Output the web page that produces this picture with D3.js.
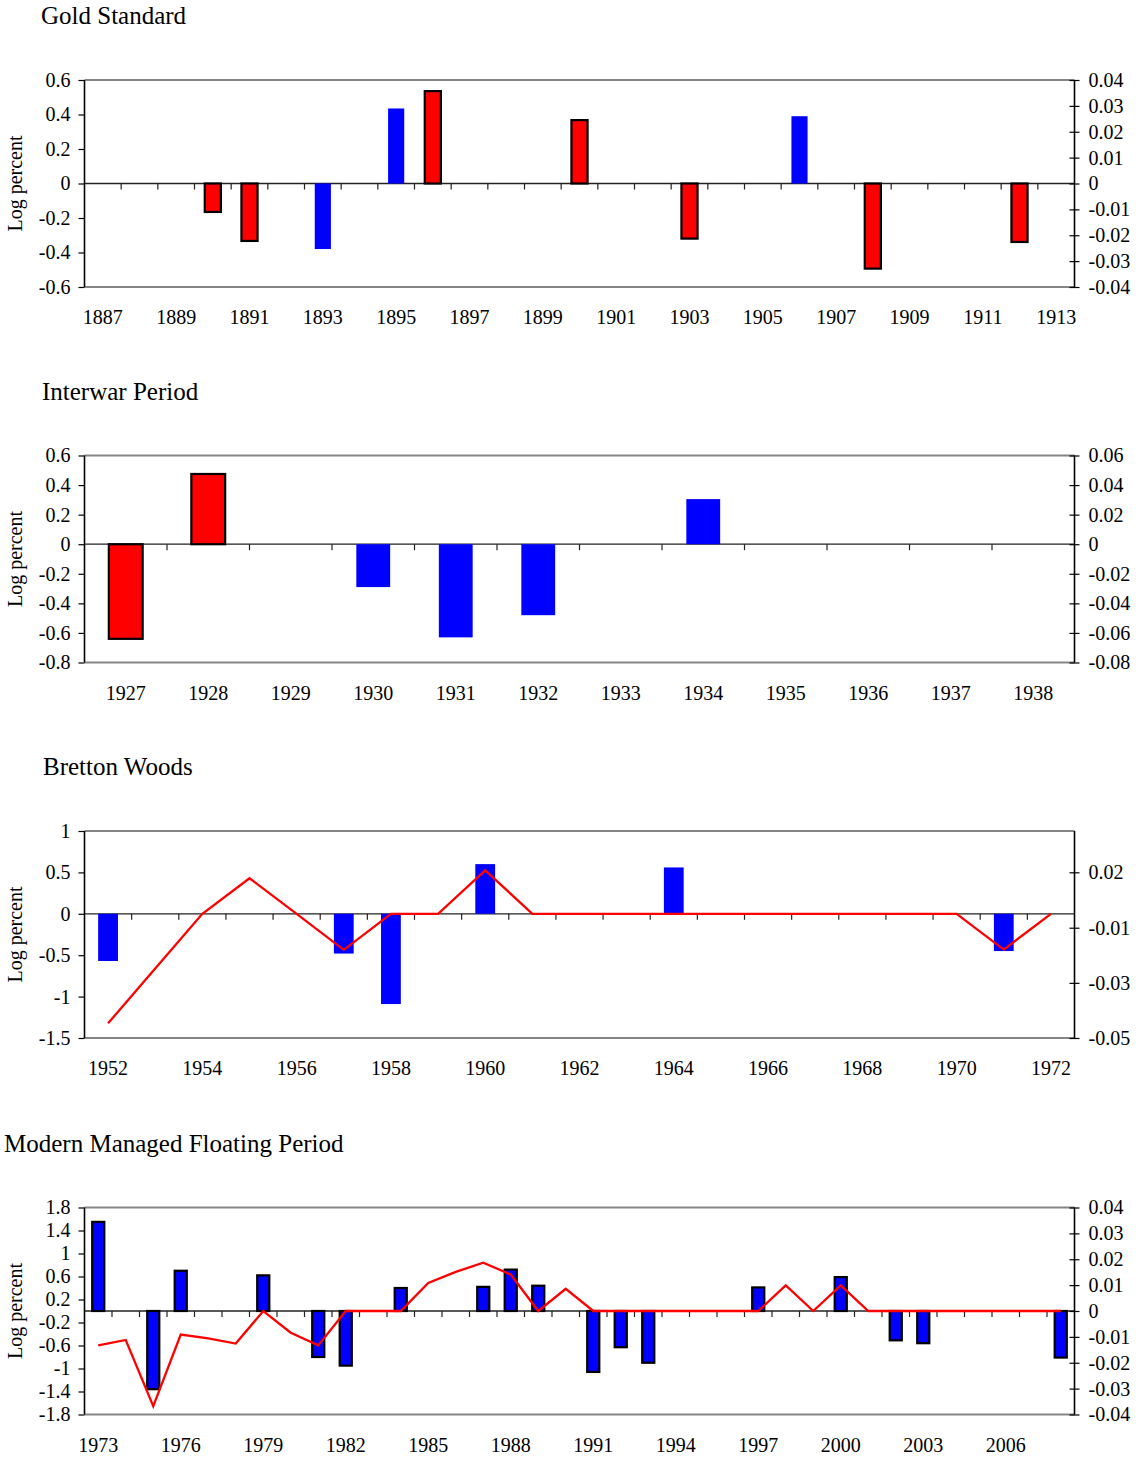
<!DOCTYPE html>
<html>
<head>
<meta charset="utf-8">
<script src="https://cdn.jsdelivr.net/npm/d3@7"></script>
<style>
  html, body { margin: 0; padding: 0; background: #fff; }
  svg { display: block; }
  text { font-family: "Liberation Serif", "Times New Roman", serif; fill: #000; }
</style>
</head>
<body>
<svg id="chart" width="1142" height="1457"></svg>
<script>
// ---------- Gold Standard ----------
const gsYears = d3.range(1887, 1914);
const gsLabelYears = d3.range(1887, 1914, 2);
const gsLeftTicks = [0.6, 0.4, 0.2, 0, -0.2, -0.4, -0.6];
const gsLeftLabels = ["0.6", "0.4", "0.2", "0", "-0.2", "-0.4", "-0.6"];
const gsRightTicks = [0.04, 0.03, 0.02, 0.01, 0, -0.01, -0.02, -0.03, -0.04];
const gsRightLabels = ["0.04", "0.03", "0.02", "0.01", "0", "-0.01", "-0.02", "-0.03", "-0.04"];
// blue bars (left axis), red bars (right axis)
const gsBlue = [[1893, -0.38], [1895, 0.435], [1906, 0.39]];
const gsRed = [[1890, -0.011], [1891, -0.0222], [1896, 0.0357], [1900, 0.0245],
               [1903, -0.0213], [1908, -0.0329], [1912, -0.0226]];

// ---------- Interwar Period ----------
const iwYears = d3.range(1927, 1939);
const iwLabelYears = d3.range(1927, 1939);
const iwLeftTicks = [0.6, 0.4, 0.2, 0, -0.2, -0.4, -0.6, -0.8];
const iwLeftLabels = ["0.6", "0.4", "0.2", "0", "-0.2", "-0.4", "-0.6", "-0.8"];
const iwRightTicks = [0.06, 0.04, 0.02, 0, -0.02, -0.04, -0.06, -0.08];
const iwRightLabels = ["0.06", "0.04", "0.02", "0", "-0.02", "-0.04", "-0.06", "-0.08"];
const iwBlue = [[1930, -0.29], [1931, -0.63], [1932, -0.48], [1934, 0.305]];
const iwRed = [[1927, -0.064], [1928, 0.0475]];

// ---------- Bretton Woods ----------
const bwYears = d3.range(1952, 1973);
const bwLabelYears = d3.range(1952, 1973, 2);
const bwLeftTicks = [1, 0.5, 0, -0.5, -1, -1.5];
const bwLeftLabels = ["1", "0.5", "0", "-0.5", "-1", "-1.5"];
const bwRightTicks = [0.0167, -0.0056, -0.0278, -0.05];
const bwRightLabels = ["0.02", "-0.01", "-0.03", "-0.05"];
const bwBlue = [[1952, -0.57], [1957, -0.48], [1958, -1.09], [1960, 0.6], [1964, 0.56], [1971, -0.45]];
// red line (right axis), one value per year 1952-1972
const bwRedLine = [-0.0441, -0.022, 0, 0.0143, 0, -0.0145, 0, 0, 0.0175, 0,
                   0, 0, 0, 0, 0, 0, 0, 0, 0, -0.0144, 0];

// ---------- Modern Managed Floating Period ----------
const mfYears = d3.range(1973, 2009);
const mfLabelYears = d3.range(1973, 2009, 3);
const mfLeftTicks = [1.8, 1.4, 1, 0.6, 0.2, -0.2, -0.6, -1, -1.4, -1.8];
const mfLeftLabels = ["1.8", "1.4", "1", "0.6", "0.2", "-0.2", "-0.6", "-1", "-1.4", "-1.8"];
const mfRightTicks = [0.04, 0.03, 0.02, 0.01, 0, -0.01, -0.02, -0.03, -0.04];
const mfRightLabels = ["0.04", "0.03", "0.02", "0.01", "0", "-0.01", "-0.02", "-0.03", "-0.04"];
const mfBlue = [[1973, 1.55], [1975, -1.36], [1976, 0.70], [1979, 0.62], [1981, -0.80], [1982, -0.95],
                [1984, 0.40], [1987, 0.42], [1988, 0.72], [1989, 0.44], [1991, -1.06], [1992, -0.63],
                [1993, -0.90], [1997, 0.41], [2000, 0.59], [2002, -0.51], [2003, -0.56], [2008, -0.81]];
// red line (right axis), one value per year 1973-2008
const mfRedLine = [-0.0133, -0.0112, -0.0368, -0.0091, -0.0106, -0.0126, 0, -0.0084, -0.0133, 0,
                   0, 0, 0.0108, 0.0151, 0.0187, 0.0141, 0, 0.0086, 0, 0,
                   0, 0, 0, 0, 0, 0.0099, 0, 0.0099, 0, 0,
                   0, 0, 0, 0, 0, 0];

// ---------- drawing ----------
const svg = d3.select("#chart");
const L = 84.5, R = 1074.5, PH = 207;
const RED = "#ff0000", BLUE = "#0000ff";

function drawPanel(p) {
  const g = svg.append("g");
  const top = p.top, bottom = p.top + PH;
  const x = d3.scaleBand().domain(p.years).range([L, R]).padding(0);
  const yL = d3.scaleLinear().domain(p.leftDomain).range([bottom, top]);
  const yR = d3.scaleLinear().domain(p.rightDomain).range([bottom, top]);
  const bw = x.bandwidth() * p.barFrac;
  const cx = d => x(d) + x.bandwidth() / 2;

  // title
  g.append("text").attr("x", p.titleX).attr("y", top - 56)
    .attr("font-size", 25).text(p.title);

  // plot-area frame (top & bottom)
  g.append("line").attr("x1", L).attr("x2", R).attr("y1", top).attr("y2", top)
    .attr("stroke", "#858585").attr("stroke-width", 2.2);
  g.append("line").attr("x1", L).attr("x2", R).attr("y1", bottom).attr("y2", bottom)
    .attr("stroke", "#858585").attr("stroke-width", 2.2);

  // zero line with category-boundary ticks
  const y0 = yL(0);
  g.append("line").attr("x1", L).attr("x2", R).attr("y1", y0).attr("y2", y0)
    .attr("stroke", "#222").attr("stroke-width", 1.3);
  g.selectAll(".cat-tick").data(p.years.slice(1)).join("line")
    .attr("x1", d => x(d)).attr("x2", d => x(d))
    .attr("y1", y0).attr("y2", y0 + 6)
    .attr("stroke", "#222").attr("stroke-width", 1.2);

  // left axis
  const la = g.append("g").attr("transform", `translate(${L},0)`)
    .call(d3.axisLeft(yL).tickValues(p.leftTicks)
      .tickFormat((d, i) => p.leftLabels[i]).tickSizeOuter(0).tickSize(6).tickPadding(8));
  la.select(".domain").attr("stroke", "#000").attr("stroke-width", 1.6)
    .attr("d", `M0,${top}V${bottom}`);
  la.selectAll(".tick line").attr("stroke", "#000").attr("stroke-width", 1.2);
  la.selectAll(".tick text").attr("font-size", 20).attr("font-family", "Liberation Serif").attr("fill", "#000");

  // right axis (ticks cross the axis line)
  const ra = g.append("g").attr("transform", `translate(${R},0)`)
    .call(d3.axisRight(yR).tickValues(p.rightTicks)
      .tickFormat((d, i) => p.rightLabels[i]).tickSizeOuter(0).tickSize(4).tickPadding(10));
  ra.select(".domain").attr("stroke", "#000").attr("stroke-width", 1.6)
    .attr("d", `M0,${top}V${bottom}`);
  ra.selectAll(".tick line").attr("x1", -5).attr("x2", 5).attr("stroke", "#000").attr("stroke-width", 1.2);
  ra.selectAll(".tick text").attr("x", 14).attr("font-size", 20).attr("font-family", "Liberation Serif").attr("fill", "#000");

  // y-axis title
  const ym = (top + bottom) / 2;
  g.append("text").attr("transform", `translate(22,${ym}) rotate(-90)`)
    .attr("text-anchor", "middle").attr("font-size", 20).text("Log percent");

  // x labels
  g.selectAll(".xlab").data(p.labelYears).join("text")
    .attr("x", d => cx(d)).attr("y", bottom + 37)
    .attr("text-anchor", "middle").attr("font-size", 20).text(d => d);

  // bars
  const barG = g.append("g");
  function bars(data, scale, fill, outlined) {
    barG.selectAll(null).data(data).join("rect")
      .attr("x", d => cx(d[0]) - bw / 2)
      .attr("width", bw)
      .attr("y", d => Math.min(scale(d[1]), scale(0)))
      .attr("height", d => Math.abs(scale(d[1]) - scale(0)))
      .attr("fill", fill)
      .attr("stroke", outlined ? "#000" : "none")
      .attr("stroke-width", outlined ? 2.2 : 0);
  }
  if (p.blue) bars(p.blue, yL, BLUE, p.blueOutlined);
  if (p.redBars) bars(p.redBars, yR, RED, true);

  // red line
  if (p.redLine) {
    const line = d3.line().x((d, i) => cx(p.years[i])).y(d => yR(d));
    g.append("path").datum(p.redLine).attr("d", line)
      .attr("fill", "none").attr("stroke", RED).attr("stroke-width", 2.3)
      .attr("stroke-linejoin", "miter");
  }
}

drawPanel({
  title: "Gold Standard", titleX: 41, top: 80,
  years: gsYears, labelYears: gsLabelYears,
  leftDomain: [-0.6, 0.6], leftTicks: gsLeftTicks, leftLabels: gsLeftLabels,
  rightDomain: [-0.04, 0.04], rightTicks: gsRightTicks, rightLabels: gsRightLabels,
  blue: gsBlue, blueOutlined: false, redBars: gsRed, barFrac: 0.44
});

drawPanel({
  title: "Interwar Period", titleX: 42, top: 455.5,
  years: iwYears, labelYears: iwLabelYears,
  leftDomain: [-0.8, 0.6], leftTicks: iwLeftTicks, leftLabels: iwLeftLabels,
  rightDomain: [-0.08, 0.06], rightTicks: iwRightTicks, rightLabels: iwRightLabels,
  blue: iwBlue, blueOutlined: false, redBars: iwRed, barFrac: 0.41
});

drawPanel({
  title: "Bretton Woods", titleX: 43, top: 831,
  years: bwYears, labelYears: bwLabelYears,
  leftDomain: [-1.5, 1], leftTicks: bwLeftTicks, leftLabels: bwLeftLabels,
  rightDomain: [-0.05, 0.03333], rightTicks: bwRightTicks, rightLabels: bwRightLabels,
  blue: bwBlue, blueOutlined: false, redLine: bwRedLine, barFrac: 0.42
});

drawPanel({
  title: "Modern Managed Floating Period", titleX: 4, top: 1207.5,
  years: mfYears, labelYears: mfLabelYears,
  leftDomain: [-1.8, 1.8], leftTicks: mfLeftTicks, leftLabels: mfLeftLabels,
  rightDomain: [-0.04, 0.04], rightTicks: mfRightTicks, rightLabels: mfRightLabels,
  blue: mfBlue, blueOutlined: true, redLine: mfRedLine, barFrac: 0.44
});
</script>
</body>
</html>
